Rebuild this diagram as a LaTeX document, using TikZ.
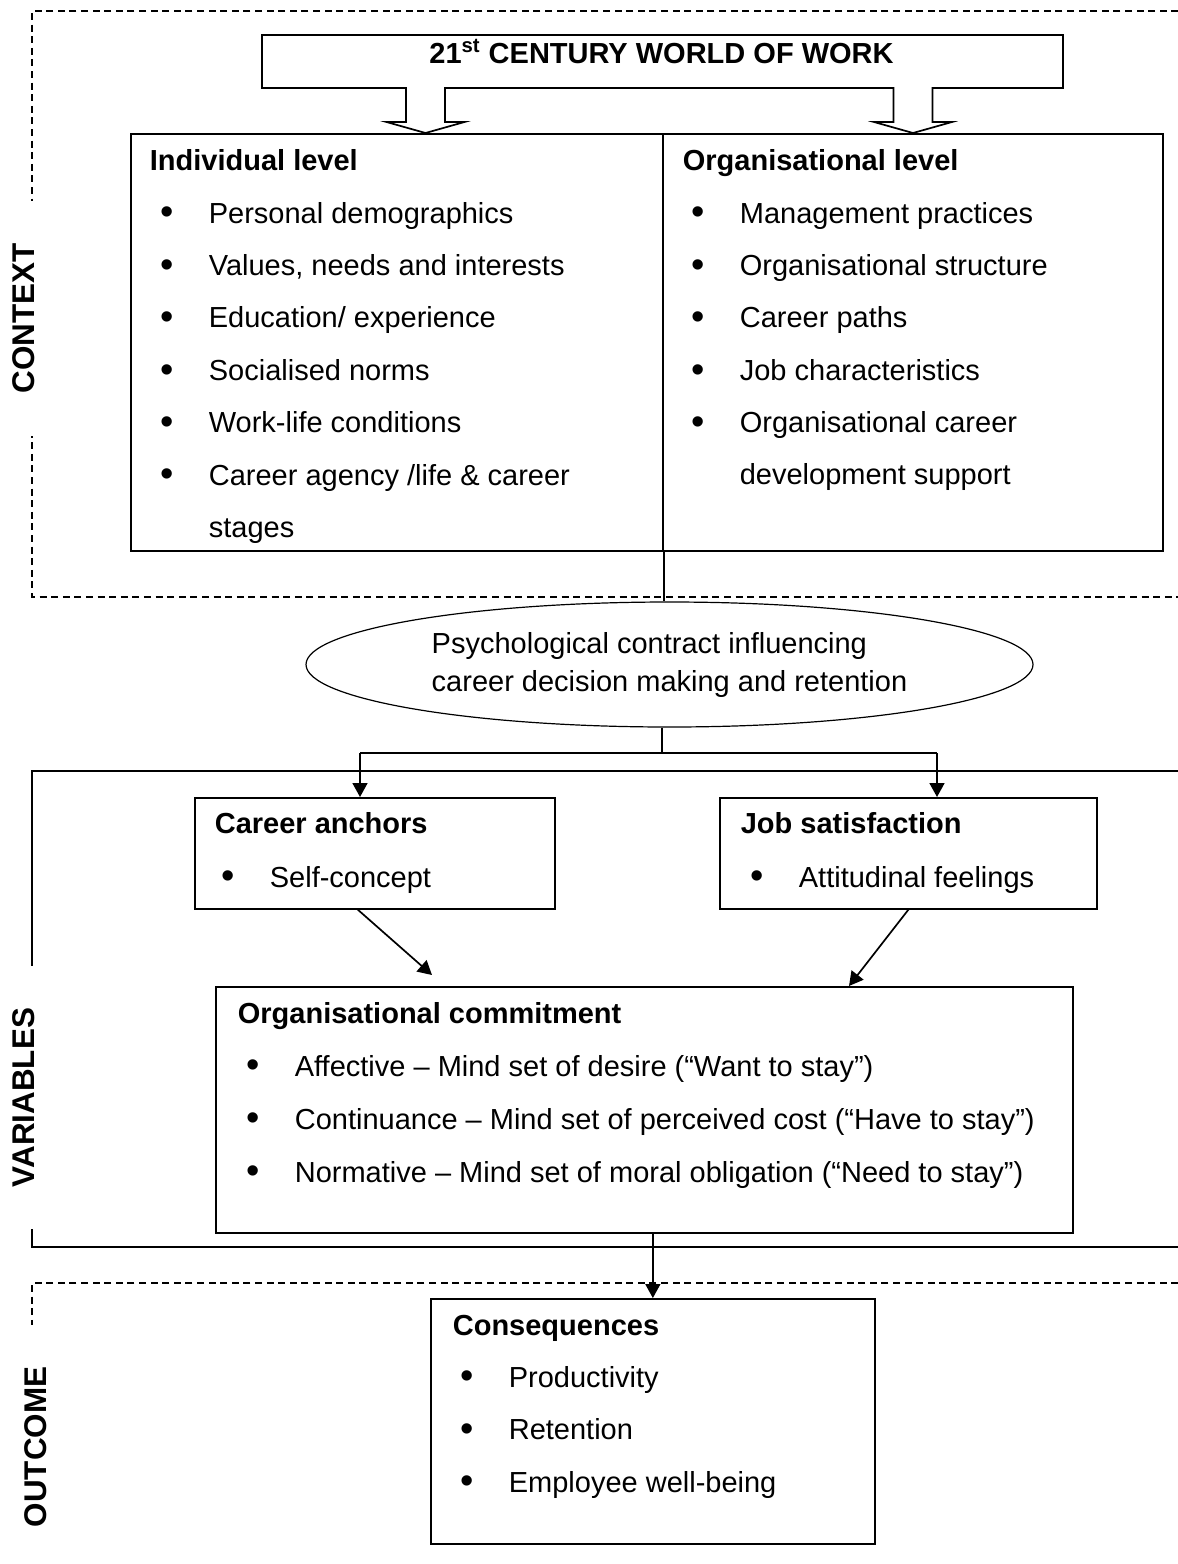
\documentclass[tikz,border=0pt]{standalone}
\usepackage{fontspec}
\setmainfont{Liberation Sans}
\usetikzlibrary{arrows.meta,shapes.geometric}

\newcommand{\bul}{\llap{\raisebox{-0.9pt}{\fontsize{19}{19}\selectfont\textbullet}\hspace{17.7pt}}}

\tikzset{
  box/.style={draw, line width=0.85pt, anchor=north west, inner sep=0pt},
  hd/.style={font=\fontsize{14.5}{19}\selectfont\bfseries, anchor=base west, inner sep=0pt},
  itm/.style={anchor=base west, inner sep=0pt},
  sidelabel/.style={font=\fontsize{15.7}{18}\selectfont\bfseries, rotate=90, fill=white, inner xsep=21pt, inner ysep=1pt},
  arr/.style={line width=0.85pt, -{Triangle[length=7pt,width=7.5pt]}},
  dashframe/.style={line width=0.65pt, dash pattern=on 3.5pt off 2.3pt},
}

\begin{document}
\begin{tikzpicture}[x=0.5pt, y=-0.5pt, font=\fontsize{14.5}{19}\selectfont, line width=0.85pt]
  \useasboundingbox (0,0) rectangle (1178,1564);

  % Molduras das tres zonas
  \draw[dashframe] (1190,11) -- (32,11) -- (32,597) -- (1190,597);
  \draw[line width=1pt] (1190,771) -- (32,771) -- (32,1247) -- (1190,1247);
  \draw[dashframe] (1190,1283) -- (32,1283) -- (32,1600);
  \node[sidelabel] (lctx) at (23.5,318.5) {CONTEXT};
  \node[sidelabel] (lvar) at (24,1097.5) {VARIABLES};
  \node[sidelabel] (lout) at (36,1447) {OUTCOME};

  % Topo e setas ocas
  \node[box, minimum width=400.5pt, minimum height=26.5pt] (world) at (261,34) {};
  \node[hd, anchor=base] (worldt) at (661.5,63) {21\textsuperscript{st} CENTURY WORLD OF WORK};
  \foreach \ax in {425.5,913} {
    \draw[fill=white] (\ax-19.5,87) -- (\ax-19.5,122) -- (\ax-39,122) -- (\ax,133)
      -- (\ax+39,122) -- (\ax+19.5,122) -- (\ax+19.5,87);
  }

  % Nivel individual e organizacional
  \node[box, minimum width=266pt, minimum height=208.5pt] (ind) at (130,133) {};
  \node[box, minimum width=250pt, minimum height=208.5pt] (org) at (662,133) {};
  \node[hd] (indh) at (149,170) {Individual level};
  \foreach \t [count=\i] in {Personal demographics, {Values, needs and interests},
      {Education/ experience}, Socialised norms, Work-life conditions,
      {Career agency /life \& career}} {
    \node[itm] (ind-\i) at (208,{223+52.4*(\i-1)}) {\bul\t};
  }
  \node[itm] (ind-7) at (208,537) {stages};
  \node[hd] (orgh) at (682,170) {Organisational level};
  \foreach \t [count=\i] in {Management practices, Organisational structure,
      Career paths, Job characteristics, Organisational career} {
    \node[itm] (org-\i) at (739,{223+52.4*(\i-1)}) {\bul\t};
  }
  \node[itm] (org-6) at (739,484) {development support};

  % Contrato psicologico
  \node[draw, ellipse, line width=0.6pt, minimum width=363.5pt, minimum height=62.5pt,
    align=left, inner sep=0pt] (psy) at (669.5,664.5)
    {Psychological contract influencing\\career decision making and retention};
  \draw (ind.south east) -- (ind.south east |- psy.north);
  \coordinate (fork) at (662,753);
  \coordinate (fl) at (360,753);
  \coordinate (fr) at (937,753);
  \draw (psy.south -| fork) -- (fork);
  \draw (fl) -- (fr);

  % Variaveis
  \node[box, minimum width=180pt, minimum height=55.5pt] (anch) at (194,797) {};
  \node[box, minimum width=188.5pt, minimum height=55.5pt] (job) at (719,797) {};
  \draw[arr] (fl) -- (fl |- anch.north);
  \draw[arr] (fr) -- (fr |- job.north);
  \node[hd] (anchh) at (214,833) {Career anchors};
  \node[itm] (anch-1) at (269,887) {\bul Self-concept};
  \node[hd] (jobh) at (740,833) {Job satisfaction};
  \node[itm] (job-1) at (798,887) {\bul Attitudinal feelings};

  \node[box, minimum width=428.5pt, minimum height=123pt] (oc) at (215,986) {};
  \node[hd] (och) at (237,1023) {Organisational commitment};
  \foreach \t [count=\i] in {{Affective – Mind set of desire (“Want to stay”)},
      {Continuance – Mind set of perceived cost (“Have to stay”)},
      {Normative – Mind set of moral obligation (“Need to stay”)}} {
    \node[itm] (oc-\i) at (294,{1076+53*(\i-1)}) {\bul\t};
  }
  \draw[arr] ([xshift=-8.5pt]anch.south) -- ([xshift=108.5pt,yshift=5.5pt]oc.north west);
  \draw[arr] (job.south) -- ([xshift=317pt]oc.north west);

  % Resultado
  \node[box, minimum width=222pt, minimum height=122.5pt] (cons) at (430,1298) {};
  \node[hd] (consh) at (452,1335) {Consequences};
  \foreach \t [count=\i] in {Productivity, Retention, Employee well-being} {
    \node[itm] (cons-\i) at (508,{1387+52.5*(\i-1)}) {\bul\t};
  }
  \draw[arr] (oc.south -| cons.north) -- (cons.north);
\end{tikzpicture}
\end{document}
